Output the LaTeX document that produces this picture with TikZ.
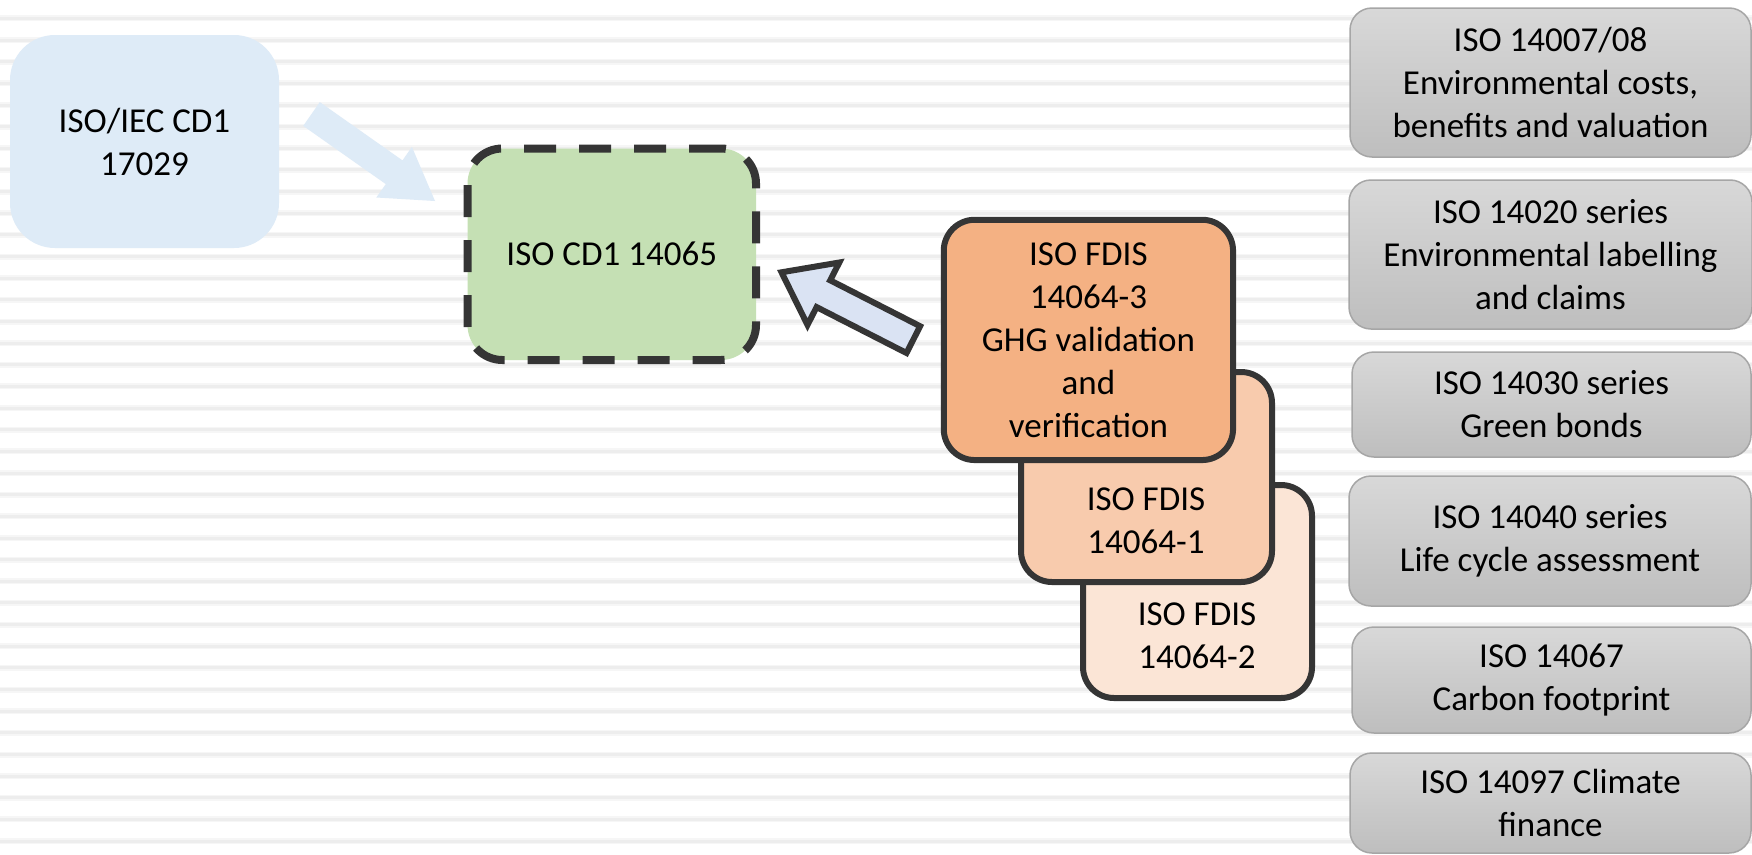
\documentclass[tikz,border=0pt]{standalone}
\usepackage{fontspec}
\setmainfont{Carlito}
\definecolor{stripeLight}{HTML}{F6F6F6}
\definecolor{stripeDark}{HTML}{EDEDED}
\definecolor{blueFill}{HTML}{DEEBF7}
\definecolor{arrowFill}{HTML}{DAE3F3}
\definecolor{greenFill}{HTML}{C5E0B4}
\definecolor{orangeA}{HTML}{F4B183}
\definecolor{orangeB}{HTML}{F8CBAD}
\definecolor{orangeC}{HTML}{FBE5D6}
\definecolor{outlineDark}{HTML}{353535}
\definecolor{grayTop}{HTML}{D8D8D8}
\definecolor{grayBot}{HTML}{BEBEBE}
\definecolor{grayBorder}{HTML}{A6A6A6}
\begin{document}
\begin{tikzpicture}[x=1pt,y=-1pt,
  every node/.style={inner sep=0pt, outer sep=0pt, align=center, font=\fontsize{35}{43}\selectfont},
  stripeA/.style={draw=stripeLight, line width=6pt},
  stripeB/.style={draw=stripeDark, line width=3pt},
  bluebox/.style={rectangle, rounded corners=45pt, fill=blueFill},
  greenbox/.style={rectangle, rounded corners=35pt, fill=greenFill, draw=outlineDark, line width=8pt, dash pattern=on 32pt off 23pt},
  orangebox/.style={rectangle, rounded corners=31pt, draw=outlineDark, line width=6pt},
  graybox/.style={rectangle, rounded corners=22pt, draw=grayBorder, line width=1.5pt, top color=grayTop, bottom color=grayBot},
  flatarrow/.style={fill=blueFill},
  outlinedarrow/.style={fill=arrowFill, draw=outlineDark, line width=6pt, line join=miter}
]
\useasboundingbox (0,0) rectangle (1752,854);
\fill[white] (0,0) rectangle (1752,854);
% background stripes
\foreach \k in {-1,...,38} {
  \draw[stripeA] (0,{18.4+21.65*\k}) -- (1752,{18.4+21.65*\k});
  \draw[stripeB] (0,{18.4+21.65*\k}) -- (1752,{18.4+21.65*\k});
}
% left box
\node[bluebox, minimum width=269pt, minimum height=213pt] (iec) at (144.5,141.5) {ISO/IEC CD1\\17029};
% flat arrow
\fill[flatarrow] (303.2,125.9) -- (319.8,102.1) -- (402.5,160.4) -- (411.9,146.9) -- (435,201) -- (376.3,197.5) -- (385.8,184.1) -- cycle;
% central dashed box
\node[greenbox, minimum width=288.5pt, minimum height=211.5pt] (cd) at (611.75,254.25) {ISO CD1 14065};
% stacked orange boxes
\node[orangebox, fill=orangeC, minimum width=229pt, minimum height=213pt] (fdisC) at (1197.5,591.5) {};
\node (fdisCt) at (1197,636) {ISO FDIS\\14064-2};
\node[orangebox, fill=orangeB, minimum width=251pt, minimum height=210pt] (fdisB) at (1146.5,477) {};
\node (fdisBt) at (1146,520.5) {ISO FDIS\\14064-1};
\node[orangebox, fill=orangeA, minimum width=289.3pt, minimum height=240.3pt] (fdisA) at (1088.4,339.9) {ISO FDIS\\14064-3\\GHG validation\\and\\verification};
% outlined arrow
\draw[outlinedarrow] (781.5,272.3) -- (839.3,262.5) -- (830.2,280.3) -- (920.1,326.2) -- (906.5,353) -- (816.6,307.1) -- (807.5,324.9) -- cycle;
% right column
\node[graybox, minimum width=401pt, minimum height=149pt] (g1) at (1550.5,82.5) {ISO 14007/08\\Environmental costs,\\benefits and valuation};
\node[graybox, minimum width=403pt, minimum height=149pt] (g2) at (1550.5,254.5) {ISO 14020 series\\Environmental labelling\\and claims};
\node[graybox, minimum width=399pt, minimum height=105pt] (g3) at (1551.5,404.5) {ISO 14030 series\\Green bonds};
\node[graybox, minimum width=402pt, minimum height=130pt] (g4) at (1550,541) {ISO 14040 series\\Life cycle assessment};
\node[graybox, minimum width=399pt, minimum height=106pt] (g5) at (1551.5,680) {ISO 14067\\Carbon footprint};
\node[graybox, minimum width=401pt, minimum height=100pt] (g6) at (1550.5,803) {ISO 14097 Climate\\finance};
\end{tikzpicture}
\end{document}
